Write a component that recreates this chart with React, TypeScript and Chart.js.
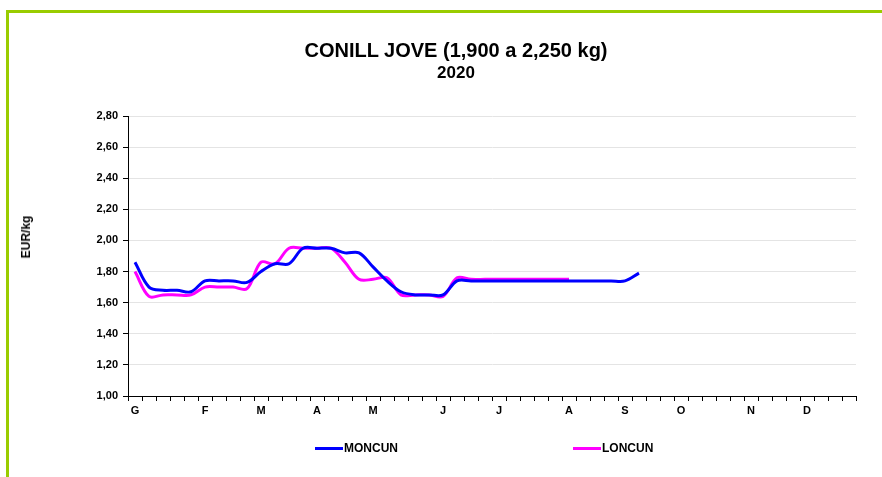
import React, { useEffect, useRef } from 'react';
import { Chart, registerables } from 'chart.js';

Chart.register(...registerables);

const FONT = "'Liberation Sans', Arial, Helvetica, sans-serif";

const TITLE = 'CONILL JOVE (1,900 a 2,250 kg)';
const SUBTITLE = '2020';
const Y_AXIS_TITLE = 'EUR/kg';

const WEEK_COUNT = 52;
const MONTH_LABELS = ['G', 'F', 'M', 'A', 'M', 'J', 'J', 'A', 'S', 'O', 'N', 'D'];
const MONTH_START_WEEKS = [0, 5, 9, 13, 17, 22, 26, 31, 35, 39, 44, 48];

const Y_MIN = 1.0;
const Y_MAX = 2.8;
const Y_STEP = 0.2;

const SERIES_NAMES = ['MONCUN', 'LONCUN'];
const SERIES_COLORS = ['#0000ff', '#ff00ff'];

const MONCUN = [
  1.86, 1.70, 1.68, 1.68, 1.67, 1.74, 1.74, 1.74, 1.73, 1.80,
  1.85, 1.85, 1.95, 1.95, 1.95, 1.92, 1.92, 1.83, 1.74, 1.67,
  1.65, 1.65, 1.65, 1.74, 1.74, 1.74, 1.74, 1.74, 1.74, 1.74,
  1.74, 1.74, 1.74, 1.74, 1.74, 1.74, 1.79,
];

const LONCUN = [
  1.80, 1.64, 1.65, 1.65, 1.65, 1.70, 1.70, 1.70, 1.69, 1.86,
  1.85, 1.95, 1.95, 1.95, 1.95, 1.86, 1.75, 1.75, 1.76, 1.65,
  1.65, 1.65, 1.64, 1.76, 1.75, 1.75, 1.75, 1.75, 1.75, 1.75,
  1.75, 1.75,
];

const CATEGORIES = Array.from({ length: WEEK_COUNT }, (_, i) => {
  const k = MONTH_START_WEEKS.indexOf(i);
  return k >= 0 ? MONTH_LABELS[k] : '';
});

export default function App() {
  const canvasRef = useRef<HTMLCanvasElement | null>(null);

  useEffect(() => {
    const canvas = canvasRef.current;
    if (!canvas) return;
    Chart.defaults.font.family = FONT;
    const chart = new Chart(canvas, {
      type: 'line',
      data: {
        labels: CATEGORIES,
        datasets: [MONCUN, LONCUN].map((d, i) => ({
          label: SERIES_NAMES[i],
          data: d,
          borderColor: SERIES_COLORS[i],
          backgroundColor: SERIES_COLORS[i],
          borderWidth: 3,
          pointRadius: 0,
          tension: 0.35,
          fill: false,
        })),
      },
      options: {
        animation: false,
        responsive: false,
        maintainAspectRatio: false,
        layout: { padding: { left: 0, right: 26, top: 116, bottom: 61 } },
        plugins: {
          legend: { display: false },
          title: { display: false },
          tooltip: { enabled: false },
        },
        scales: {
          x: {
            type: 'category',
            offset: true,
            grid: {
              offset: true,
              drawOnChartArea: false,
              tickLength: 5,
              tickColor: '#000',
              color: '#000',
            },
            border: { color: '#000', width: 1 },
            ticks: {
              autoSkip: false,
              maxRotation: 0,
              minRotation: 0,
              padding: 3,
              color: '#000',
              font: { family: FONT, size: 11, weight: 'bold' },
            },
            afterFit: (s: any) => {
              s.height = 20;
            },
          },
          y: {
            min: Y_MIN,
            max: Y_MAX,
            ticks: {
              stepSize: Y_STEP,
              padding: 5,
              color: '#000',
              font: { family: FONT, size: 11, weight: 'bold' },
              callback: (v: any) => Number(v).toFixed(2).replace('.', ','),
            },
            grid: { color: '#e4e4e4', tickColor: '#000', tickLength: 5 },
            border: { color: '#000', width: 1 },
            afterFit: (s: any) => {
              s.width = 128;
            },
          },
        },
      },
    } as any);
    return () => chart.destroy();
  }, []);

  const textBase: React.CSSProperties = {
    position: 'absolute',
    fontFamily: FONT,
    fontWeight: 'bold',
    color: '#000',
    whiteSpace: 'nowrap',
  };

  return (
    <div
      style={{
        position: 'fixed',
        left: 0,
        top: 0,
        width: 882,
        height: 477,
        overflow: 'hidden',
        background: '#fff',
      }}
    >
      <div
        style={{
          position: 'absolute',
          left: 6,
          top: 10,
          width: 2000,
          height: 2000,
          borderLeft: '3px solid #99cc00',
          borderTop: '3px solid #99cc00',
        }}
      />
      <canvas
        ref={canvasRef}
        width={882}
        height={477}
        style={{ position: 'absolute', left: 0, top: 0, width: 882, height: 477, display: 'block' }}
      />
      <div
        style={{
          ...textBase,
          left: 0,
          width: 912,
          top: 40,
          fontSize: 20,
          lineHeight: '20px',
          textAlign: 'center',
        }}
      >
        {TITLE}
      </div>
      <div
        style={{
          ...textBase,
          left: 0,
          width: 912,
          top: 64,
          fontSize: 17,
          lineHeight: '17px',
          textAlign: 'center',
        }}
      >
        {SUBTITLE}
      </div>
      <div
        style={{
          ...textBase,
          left: 25.5,
          top: 237,
          fontSize: 12,
          lineHeight: '12px',
          transform: 'translate(-50%, -50%) rotate(-90deg)',
        }}
      >
        {Y_AXIS_TITLE}
      </div>
      {SERIES_NAMES.map((name, i) => {
        const x = i === 0 ? 315 : 573;
        return (
          <React.Fragment key={name}>
            <div
              style={{
                position: 'absolute',
                left: x,
                top: 447,
                width: 28,
                height: 3,
                background: SERIES_COLORS[i],
              }}
            />
            <div style={{ ...textBase, left: x + 29, top: 442, fontSize: 12, lineHeight: '12px' }}>
              {name}
            </div>
          </React.Fragment>
        );
      })}
    </div>
  );
}
